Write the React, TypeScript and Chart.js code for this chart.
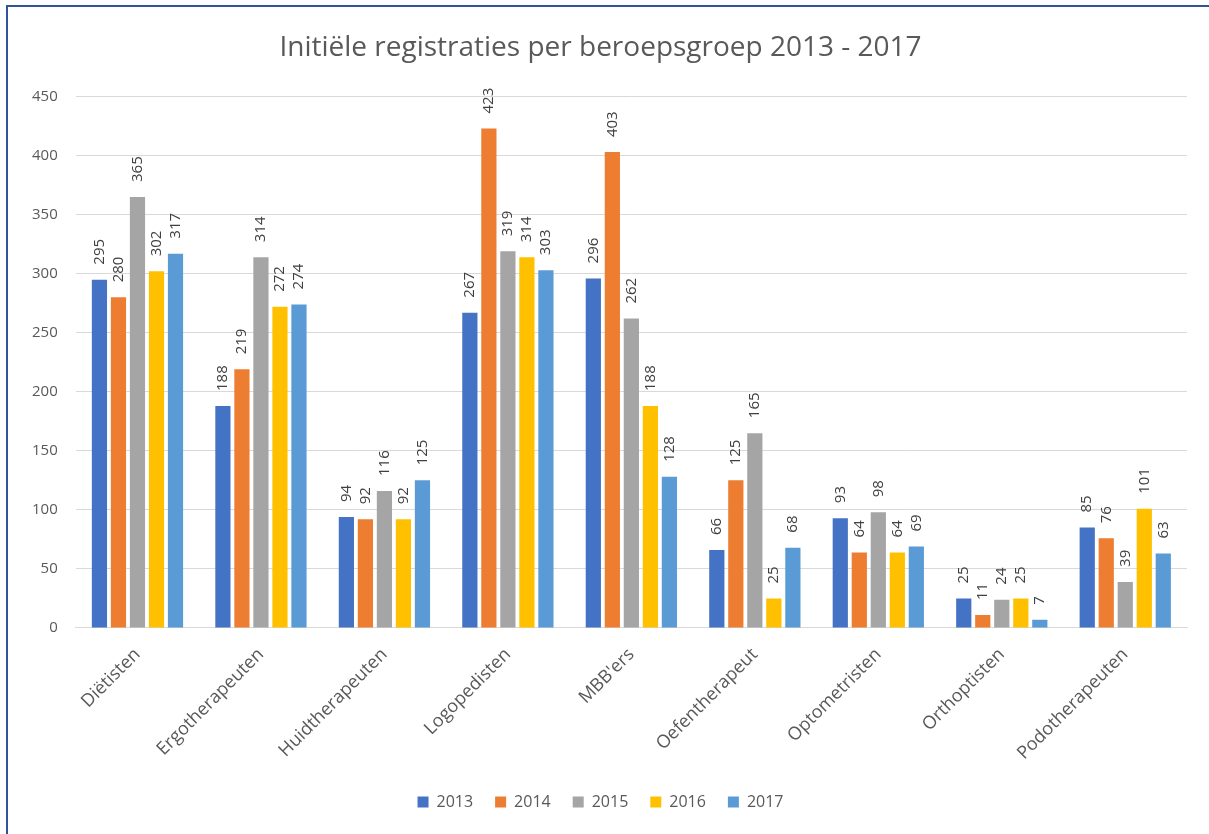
import React, { useEffect, useRef } from "react";
import { Chart, registerables } from "chart.js";

Chart.register(...registerables);

const categories = [
  "Diëtisten",
  "Ergotherapeuten",
  "Huidtherapeuten",
  "Logopedisten",
  "MBB'ers",
  "Oefentherapeut",
  "Optometristen",
  "Orthoptisten",
  "Podotherapeuten",
];

const years = ["2013", "2014", "2015", "2016", "2017"];

const values2013 = [295, 188, 94, 267, 296, 66, 93, 25, 85];
const values2014 = [280, 219, 92, 423, 403, 125, 64, 11, 76];
const values2015 = [365, 314, 116, 319, 262, 165, 98, 24, 39];
const values2016 = [302, 272, 92, 314, 188, 25, 64, 25, 101];
const values2017 = [317, 274, 125, 303, 128, 68, 69, 7, 63];

const seriesValues = [values2013, values2014, values2015, values2016, values2017];
const seriesColors = ["#4472C4", "#ED7D31", "#A5A5A5", "#FFC000", "#5B9BD5"];

const FONT = "'Open Sans', 'DejaVu Sans', sans-serif";

const barLabelPlugin = {
  id: "barLabels",
  afterDatasetsDraw(chart: any) {
    const ctx = chart.ctx;
    ctx.save();
    ctx.font = `15px ${FONT}`;
    ctx.fillStyle = "#404040";
    ctx.textAlign = "left";
    ctx.textBaseline = "middle";
    chart.data.datasets.forEach((ds: any, di: number) => {
      const meta = chart.getDatasetMeta(di);
      meta.data.forEach((el: any, i: number) => {
        const v = ds.data[i];
        ctx.save();
        ctx.translate(el.x, el.y - 15);
        ctx.rotate(-Math.PI / 2);
        ctx.fillText(String(v), 0, 0);
        ctx.restore();
      });
    });
    ctx.restore();
  },
};

export default function App() {
  const canvasRef = useRef<HTMLCanvasElement | null>(null);

  useEffect(() => {
    if (!canvasRef.current) return;
    const chart = new Chart(canvasRef.current, {
      type: "bar",
      data: {
        labels: categories,
        datasets: years.map((y, i) => ({
          label: y,
          data: seriesValues[i],
          backgroundColor: seriesColors[i],
          borderWidth: 0,
          categoryPercentage: 0.77,
          barPercentage: 0.8,
        })),
      },
      options: {
        responsive: false,
        animation: false,
        layout: { padding: { left: 14, right: 22, top: 0, bottom: 14 } },
        plugins: {
          title: {
            display: true,
            text: "Initiële registraties per beroepsgroep 2013 - 2017",
            color: "#595959",
            font: { family: FONT, size: 28, weight: "normal" },
            padding: { top: 31, bottom: 32 },
          },
          legend: {
            position: "bottom",
            labels: {
              color: "#595959",
              font: { family: FONT, size: 16 },
              boxWidth: 11,
              boxHeight: 11,
              padding: 22,
            },
          },
          tooltip: { enabled: false },
        },
        scales: {
          x: {
            grid: { display: false },
            border: { display: true, color: "#d9d9d9" },
            ticks: {
              color: "#595959",
              font: { family: FONT, size: 18 },
              maxRotation: 45,
              minRotation: 45,
              autoSkip: false,
              padding: 8,
            },
          },
          y: {
            min: 0,
            max: 450,
            ticks: {
              stepSize: 50,
              color: "#595959",
              font: { family: FONT, size: 15 },
              padding: 18,
            },
            grid: { color: "#d9d9d9", drawTicks: false },
            border: { display: false },
          },
        },
      },
      plugins: [barLabelPlugin],
    });
    return () => chart.destroy();
  }, []);

  return (
    <div style={{ position: "fixed", left: 0, top: 0, width: 1209, height: 834, background: "#fff" }}>
      <canvas ref={canvasRef} width={1209} height={834} style={{ position: "absolute", left: 0, top: 0 }} />
      <div
        style={{
          position: "absolute",
          left: 6,
          top: 5,
          width: 1209,
          height: 840,
          borderTop: "2px solid #2F5597",
          borderLeft: "2px solid #2F5597",
          pointerEvents: "none",
        }}
      />
    </div>
  );
}
